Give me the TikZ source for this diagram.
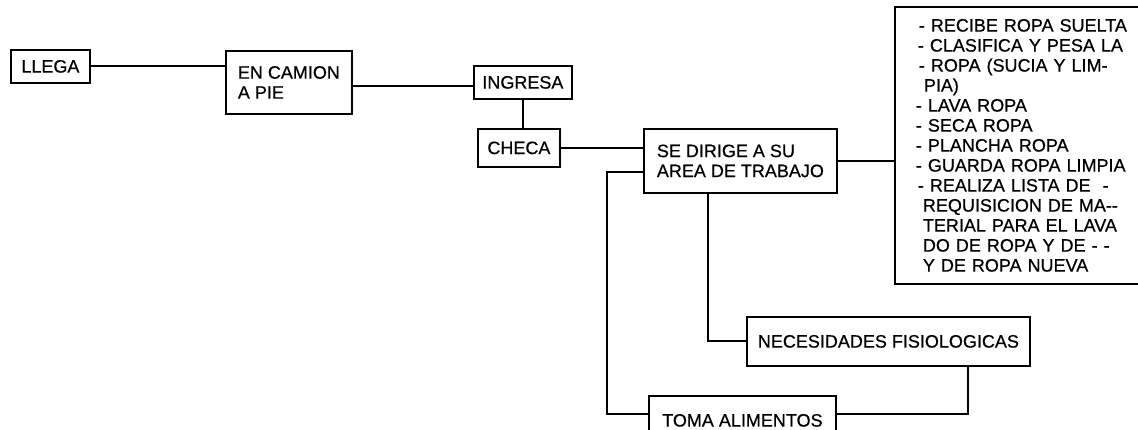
\documentclass[tikz,border=0pt]{standalone}
\usepackage{fontspec}
\setmainfont[AutoFakeBold=0.6]{Liberation Sans}
\usetikzlibrary{calc}

\begin{document}
\begin{tikzpicture}[
      x=1pt, y=-1pt,
      every node/.style={font=\fontsize{18}{20}\selectfont\bfseries},
      activity/.style={draw, line width=1.8pt, inner sep=0pt, anchor=north west, align=left},
      tasks/.style={activity, text width=215pt, inner xsep=21pt},
      link/.style={line width=2pt}
    ]
      \useasboundingbox (0,0) rectangle (1138,429);
      \node[activity, minimum width=79pt, minimum height=33pt] (llega) at (10,49) {LLEGA};
      \node[activity, minimum width=126pt, minimum height=63pt] (camion) at (225,50) {EN CAMION\\A PIE};
      \node[activity, minimum width=98pt, minimum height=33pt] (ingresa) at (473,65) {INGRESA};
      \node[activity, minimum width=82pt, minimum height=38pt] (checa) at (477,128) {CHECA};
      \node[activity, minimum width=193pt, minimum height=64pt] (dirige) at (643,128) {SE DIRIGE A SU\\AREA DE TRABAJO};
      \node[tasks, minimum height=277pt] (tareas) at (894,6) {\hspace*{3pt}- RECIBE ROPA SUELTA\\
        \hspace*{2pt}- CLASIFICA Y PESA LA\\
        \hspace*{3pt}- ROPA (SUCIA Y LIM-\\
        \hspace*{8pt}PIA)\\
        - LAVA ROPA\\
        - SECA ROPA\\
        - PLANCHA ROPA\\
        - GUARDA ROPA LIMPIA\\
        \hspace*{2pt}- REALIZA LISTA DE\ \ -\\
        \hspace*{7pt}REQUISICION DE MA-{}-\\
        \hspace*{7pt}TERIAL PARA EL LAVA\\
        \hspace*{7pt}DO DE ROPA Y DE - -\\
        \hspace*{7pt}Y DE ROPA NUEVA};
      \node[activity, minimum width=283pt, minimum height=49pt] (necesidades) at (746,316) {NECESIDADES FISIOLOGICAS};
      \node[activity, minimum width=187pt, minimum height=49pt] (toma) at (648,395) {TOMA ALIMENTOS};

      \draw[link] (llega) -- (llega -| camion.west);
      \draw[link] ([yshift=-4pt]camion.east) -- ([yshift=-4pt]camion.east -| ingresa.west);
      \draw[link] (ingresa.south) -- (ingresa.south |- checa.north);
      \draw[link] (checa) -- (checa -| dirige.west);
      \draw[link] (dirige.east) -- (dirige.east -| tareas.west);
      \draw[link] ([yshift=-11pt]dirige.west) -- ++(-36,0) |- ([yshift=6pt]toma.west);
      \draw[link] ([xshift=-32pt]dirige.south) |- (necesidades.west);
      \draw[link] ([xshift=80pt]necesidades.south) |- ([yshift=6pt]toma.east);
    \end{tikzpicture}
\end{document}
